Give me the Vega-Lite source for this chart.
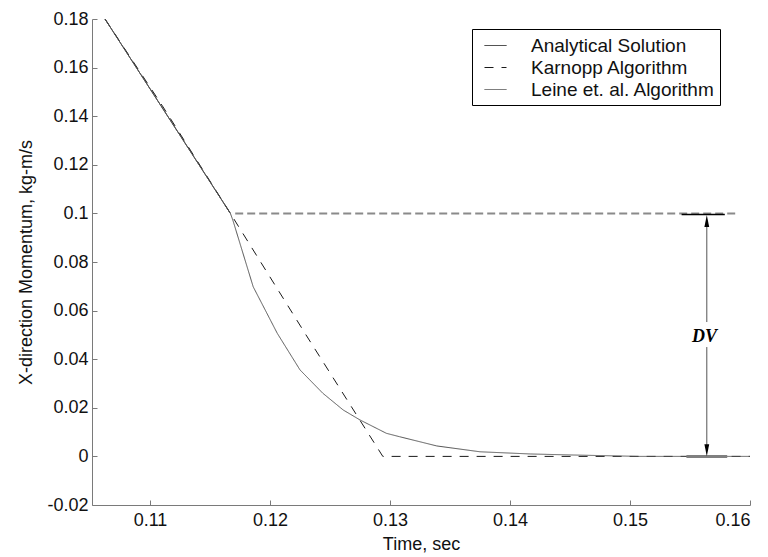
{
  "$schema": "https://vega.github.io/schema/vega-lite/v6.json",
  "autosize": "none",
  "width": 658,
  "height": 486,
  "padding": {"left": 92, "top": 19, "right": 18, "bottom": 52},
  "background": "white",
  "config": {
    "view": {"stroke": null},
    "axis": {
      "grid": false,
      "domainColor": "#7a7a7a",
      "tickColor": "#7a7a7a",
      "tickSize": -5,
      "labelFont": "Liberation Sans",
      "labelFontSize": 18,
      "labelColor": "#111",
      "titleFont": "Liberation Sans",
      "titleFontSize": 18,
      "titleFontWeight": "normal",
      "titleColor": "#111"
    },
    "legend": {
      "orient": "none",
      "legendX": 380,
      "legendY": 10,
      "strokeColor": "#000",
      "fillColor": "white",
      "padding": 5,
      "symbolOffset": 7,
      "symbolType": "stroke",
      "symbolSize": 484,
      "symbolStrokeWidth": 1,
      "labelFont": "Liberation Sans",
      "labelFontSize": 19,
      "labelColor": "#111",
      "labelOffset": 24,
      "labelLimit": 400,
      "rowPadding": 0
    }
  },
  "datasets": {
    "curves": [
      {"t": 0.10625, "v": 0.18, "series": "Analytical Solution"},
      {"t": 0.1167, "v": 0.1, "series": "Analytical Solution"},
      {"t": 0.10625, "v": 0.18, "series": "Karnopp Algorithm"},
      {"t": 0.1110, "v": 0.1445, "series": "Karnopp Algorithm"},
      {"t": 0.1167, "v": 0.1, "series": "Karnopp Algorithm"},
      {"t": 0.1230, "v": 0.05, "series": "Karnopp Algorithm"},
      {"t": 0.1294, "v": 0.0, "series": "Karnopp Algorithm"},
      {"t": 0.16, "v": 0.0, "series": "Karnopp Algorithm"},
      {"t": 0.10625, "v": 0.18, "series": "Leine et. al. Algorithm"},
      {"t": 0.1167, "v": 0.1, "series": "Leine et. al. Algorithm"},
      {"t": 0.1169, "v": 0.0973, "series": "Leine et. al. Algorithm"},
      {"t": 0.1186, "v": 0.0698, "series": "Leine et. al. Algorithm"},
      {"t": 0.1206, "v": 0.0507, "series": "Leine et. al. Algorithm"},
      {"t": 0.1225, "v": 0.0356, "series": "Leine et. al. Algorithm"},
      {"t": 0.1244, "v": 0.026, "series": "Leine et. al. Algorithm"},
      {"t": 0.1261, "v": 0.0191, "series": "Leine et. al. Algorithm"},
      {"t": 0.1275, "v": 0.015, "series": "Leine et. al. Algorithm"},
      {"t": 0.1297, "v": 0.0095, "series": "Leine et. al. Algorithm"},
      {"t": 0.1308, "v": 0.0081, "series": "Leine et. al. Algorithm"},
      {"t": 0.1339, "v": 0.0043, "series": "Leine et. al. Algorithm"},
      {"t": 0.1375, "v": 0.0019, "series": "Leine et. al. Algorithm"},
      {"t": 0.1417, "v": 0.001, "series": "Leine et. al. Algorithm"},
      {"t": 0.145, "v": 0.0006, "series": "Leine et. al. Algorithm"},
      {"t": 0.1508, "v": 0.0, "series": "Leine et. al. Algorithm"},
      {"t": 0.16, "v": 0.0, "series": "Leine et. al. Algorithm"}
    ],
    "refline": [{"t1": 0.1171, "t2": 0.1588, "v": 0.1}],
    "topbar": [{"t1": 0.1543, "t2": 0.1579, "v": 0.0995}],
    "botbar": [{"t1": 0.1547, "t2": 0.1581, "v": 0.0}],
    "arrowline": [
      {"t": 0.1564, "v1": 0.0025, "v2": 0.045},
      {"t": 0.1564, "v1": 0.0553, "v2": 0.097}
    ],
    "heads": [
      {"t": 0.1564, "v": 0.0969, "dir": "up"},
      {"t": 0.1564, "v": 0.0025, "dir": "down"}
    ],
    "label": [{"t": 0.1562, "v": 0.0492, "text": "DV"}]
  },
  "layer": [
    {
      "data": {"name": "refline"},
      "mark": {"type": "rule", "color": "#8a8a8a", "strokeWidth": 2, "strokeDash": [8, 4]},
      "encoding": {
        "x": {"field": "t1", "type": "quantitative"},
        "x2": {"field": "t2"},
        "y": {"field": "v", "type": "quantitative"}
      }
    },
    {
      "data": {"name": "curves"},
      "mark": {"type": "line", "strokeWidth": 1},
      "encoding": {
        "x": {
          "field": "t", "type": "quantitative",
          "scale": {"domain": [0.105167, 0.16], "nice": false, "zero": false},
          "axis": {"title": "Time, sec", "values": [0.11, 0.12, 0.13, 0.14, 0.15, 0.16], "labelExpr": "'' + datum.value", "labelPadding": 11, "titlePadding": 6}
        },
        "y": {
          "field": "v", "type": "quantitative",
          "scale": {"domain": [-0.02, 0.18], "nice": false, "zero": false},
          "axis": {"title": "X-direction Momentum, kg-m/s", "values": [-0.02, 0, 0.02, 0.04, 0.06, 0.08, 0.1, 0.12, 0.14, 0.16, 0.18], "labelExpr": "'' + datum.value", "labelPadding": 9, "titlePadding": 11}
        },
        "color": {
          "field": "series", "type": "nominal",
          "scale": {"domain": ["Analytical Solution", "Karnopp Algorithm", "Leine et. al. Algorithm"], "range": ["#1a1a1a", "#1a1a1a", "#555555"]},
          "legend": {"title": null}
        },
        "strokeDash": {
          "field": "series", "type": "nominal",
          "scale": {"domain": ["Analytical Solution", "Karnopp Algorithm", "Leine et. al. Algorithm"], "range": [[1, 0], [9, 8], [1, 0]]},
          "legend": {"title": null}
        },
        "order": {"field": "t", "type": "quantitative"}
      }
    },
    {
      "data": {"name": "topbar"},
      "mark": {"type": "rule", "color": "#000", "strokeWidth": 1.5},
      "encoding": {
        "x": {"field": "t1", "type": "quantitative"},
        "x2": {"field": "t2"},
        "y": {"field": "v", "type": "quantitative"}
      }
    },
    {
      "data": {"name": "botbar"},
      "mark": {"type": "rule", "color": "#808080", "strokeWidth": 3},
      "encoding": {
        "x": {"field": "t1", "type": "quantitative"},
        "x2": {"field": "t2"},
        "y": {"field": "v", "type": "quantitative"}
      }
    },
    {
      "data": {"name": "arrowline"},
      "mark": {"type": "rule", "color": "#555", "strokeWidth": 1},
      "encoding": {
        "x": {"field": "t", "type": "quantitative"},
        "y": {"field": "v1", "type": "quantitative"},
        "y2": {"field": "v2"}
      }
    },
    {
      "data": {"name": "heads"},
      "mark": {"type": "point", "filled": true, "color": "#000", "opacity": 1, "size": 144},
      "encoding": {
        "x": {"field": "t", "type": "quantitative"},
        "y": {"field": "v", "type": "quantitative"},
        "shape": {
          "field": "dir", "type": "nominal",
          "scale": {"domain": ["up", "down"], "range": ["M0,-1L0.4,1L-0.4,1Z", "M0,1L0.4,-1L-0.4,-1Z"]},
          "legend": null
        }
      }
    },
    {
      "data": {"name": "label"},
      "mark": {"type": "text", "font": "Liberation Serif", "fontSize": 18, "fontStyle": "italic", "fontWeight": "bold", "color": "#000", "align": "center", "baseline": "middle"},
      "encoding": {
        "x": {"field": "t", "type": "quantitative"},
        "y": {"field": "v", "type": "quantitative"},
        "text": {"field": "text"}
      }
    }
  ]
}
